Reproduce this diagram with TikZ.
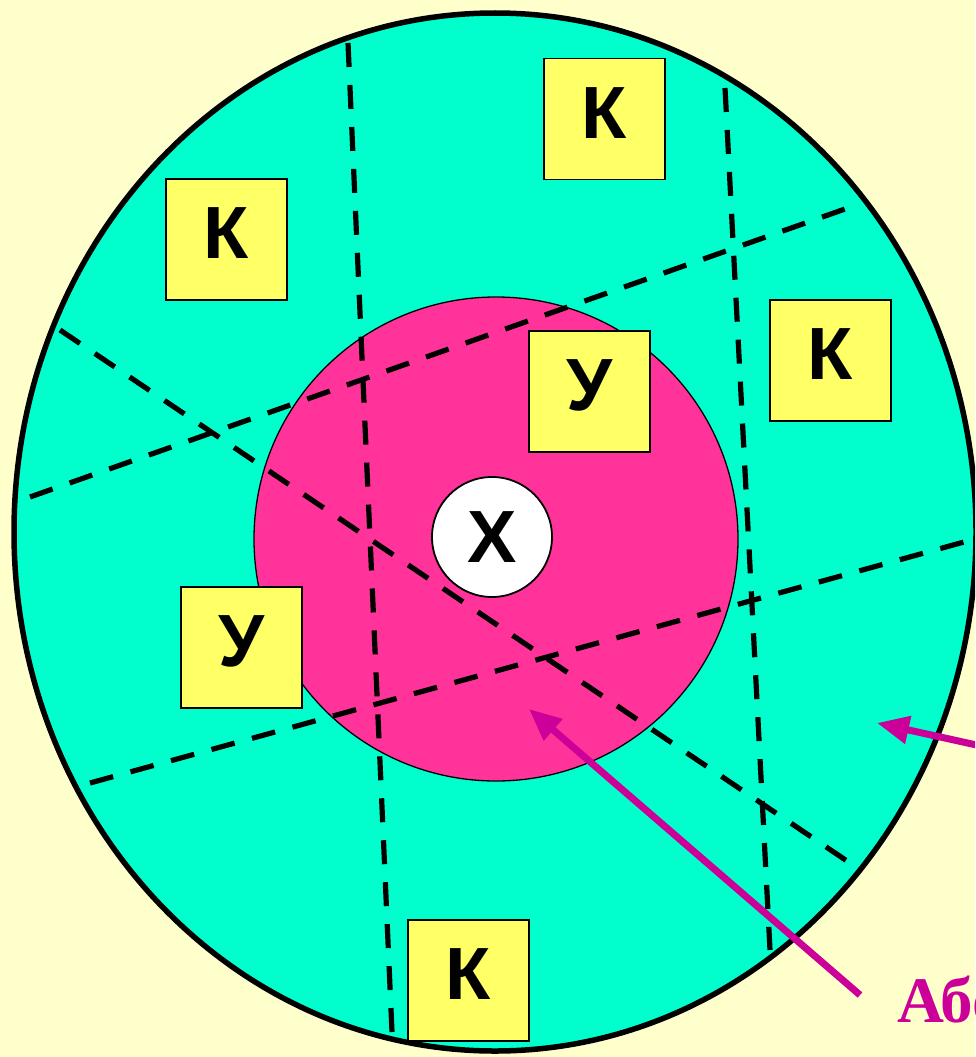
\documentclass[tikz,border=0pt]{standalone}
\usepackage{fontspec}
\setmainfont{Liberation Serif}
\newfontfamily\boxfont{Liberation Sans}
\usetikzlibrary{arrows.meta}
\definecolor{bgc}{HTML}{FFFFCC}
\definecolor{aqua}{HTML}{00FFCC}
\definecolor{rosec}{HTML}{FF3399}
\definecolor{yel}{HTML}{FFFF66}
\definecolor{mag}{HTML}{CC0099}
\tikzset{
  lbox/.style={rectangle, draw=black, line width=1.8pt, fill=yel, minimum size=121pt, inner sep=0pt,
    font=\boxfont\bfseries\fontsize{74}{74}\selectfont, text depth=12pt},
  zonecut/.style={dashed, dash pattern=on 24pt off 18pt, line width=5.2pt, black},
  pointer/.style={draw=mag, line width=7pt, -{Triangle[length=32pt,width=27pt]}},
}
\begin{document}
\begin{tikzpicture}[x=1pt,y=-1pt]
\clip (0,0) rectangle (975,1057);
\fill[bgc] (0,0) rectangle (975,1057);
% outer zone
\draw[fill=aqua, line width=5.5pt] (495,532) ellipse [x radius=481, y radius=519];
% inner zone
\draw[fill=rosec, line width=1.3pt] (496,539) circle [radius=242];
% dashed cut lines
\coordinate (a1) at (348,43);  \coordinate (a2) at (392,1032);
\coordinate (b1) at (725,88);  \coordinate (b2) at (770,950);
\coordinate (c1) at (30,497);  \coordinate (c2) at (845,209);
\coordinate (d1) at (90,783);  \coordinate (d2) at (964,542);
\coordinate (e1) at (60,330);  \coordinate (e2) at (847,861);
\draw[zonecut] (a1) -- (a2);
\draw[zonecut] (b1) -- (b2);
\draw[zonecut] (c1) -- (c2);
\draw[zonecut] (d1) -- (d2);
\draw[zonecut] (e1) -- (e2);
% boxes
\node[lbox] (k1) at (604.5,119) {К};
\node[lbox] (k2) at (226.5,239.5) {К};
\node[lbox] (u1) at (589.5,391.5) {У};
\node[lbox] (k3) at (830.5,360.5) {К};
\node[lbox] (u2) at (241.5,647.5) {У};
\node[lbox] (k4) at (468.5,980.5) {К};
% center
\node[circle, draw=black, line width=1.8pt, fill=white, minimum size=120pt, inner sep=0pt,
  font=\boxfont\bfseries\fontsize{74}{74}\selectfont] (x) at (492,537) {Х};
% label and pointers
\node[anchor=base west, inner sep=0pt, text=mag, font=\bfseries\fontsize{65}{65}\selectfont] (lab) at (897,1022) {Абонент};
\coordinate (p1s) at (860,995); \coordinate (p1t) at (529,709);
\coordinate (p2s) at (990,748); \coordinate (p2t) at (877,723);
\draw[pointer] (p1s) -- (p1t);
\draw[pointer] (p2s) -- (p2t);
\end{tikzpicture}
\end{document}
